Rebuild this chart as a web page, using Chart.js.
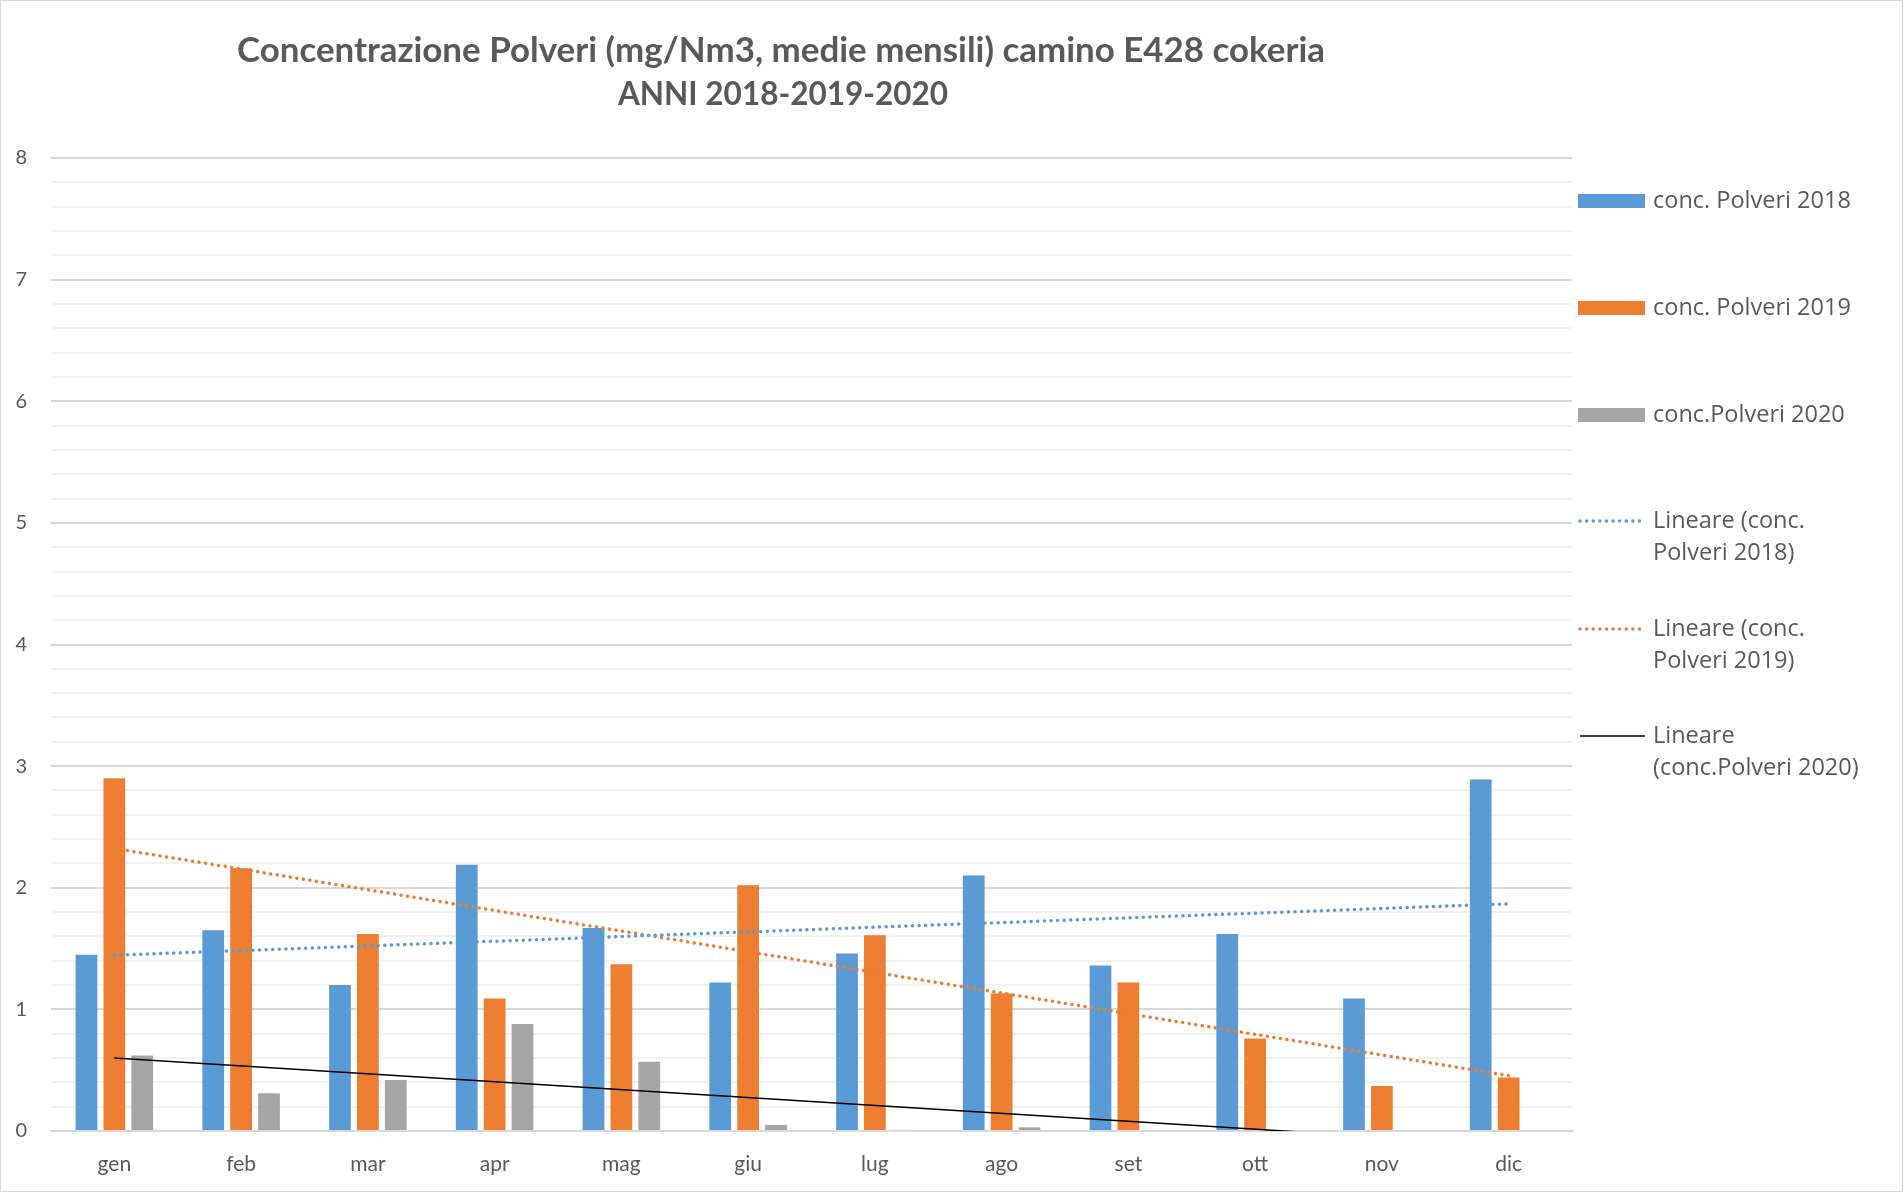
<!DOCTYPE html>
<html lang="it">
<head>
<meta charset="UTF-8">
<title>Concentrazione Polveri camino E428 cokeria</title>
<script src="https://cdn.jsdelivr.net/npm/chart.js"></script>
<style>
  html, body { margin: 0; padding: 0; background: #fff; }
  canvas { display: block; }
</style>
</head>
<body>
<canvas id="myChart" width="1903" height="1192"></canvas>
<script>
// data
const months = ['gen', 'feb', 'mar', 'apr', 'mag', 'giu', 'lug', 'ago', 'set', 'ott', 'nov', 'dic'];
const polveri2018 = [1.45, 1.65, 1.20, 2.19, 1.67, 1.22, 1.46, 2.10, 1.36, 1.62, 1.09, 2.89];
const polveri2019 = [2.90, 2.16, 1.62, 1.09, 1.37, 2.02, 1.61, 1.13, 1.22, 0.76, 0.37, 0.44];
const polveri2020 = [0.62, 0.31, 0.42, 0.88, 0.57, 0.05, 0.01, 0.03, null, null, null, null];

// trend lines: value at gen and at dic, as seen in the picture
const trend2018 = [1.445, 1.868];
const trend2019 = [2.323, 0.455];
const trend2020 = [0.60, -0.115];

const yTicks = [0, 1, 2, 3, 4, 5, 6, 7, 8];

const titleLines = ['Concentrazione Polveri (mg/Nm3, medie mensili) camino E428 cokeria', 'ANNI 2018-2019-2020'];
const legendTexts = [
  ['conc. Polveri 2018'],
  ['conc. Polveri 2019'],
  ['conc.Polveri 2020'],
  ['Lineare (conc.', 'Polveri 2018)'],
  ['Lineare (conc.', 'Polveri 2019)'],
  ['Lineare', '(conc.Polveri 2020)']
];

const BLUE = '#5B9BD5', ORANGE = '#ED7D31', GREY = '#A5A5A5';

// only first and last month get a point, the line joins them
function endpoints(pair) {
  return months.map((m, i) => i === 0 ? pair[0] : (i === months.length - 1 ? pair[1] : null));
}
function isWhole(v) { return Math.abs(v - Math.round(v)) < 1e-6; }

// draw text squeezed to a given width (reference font is narrower than Lato)
function fitText(ctx, text, x, y, width) {
  ctx.font = 'bold 30px Lato';
  const size = 30 * width / ctx.measureText(text).width;
  ctx.font = 'bold ' + size.toFixed(1) + 'px Lato';
  ctx.fillText(text, x, y);
}

const titlePlugin = {
  id: 'excelTitle',
  afterDraw(chart) {
    const ctx = chart.ctx;
    ctx.save();
    ctx.fillStyle = '#595959';
    ctx.textAlign = 'center';
    ctx.textBaseline = 'middle';
    fitText(ctx, titleLines[0], 781, 51, 1087);
    fitText(ctx, titleLines[1], 783, 95, 330);
    // outer frame
    ctx.strokeStyle = '#d9d9d9';
    ctx.lineWidth = 1;
    ctx.strokeRect(0.5, 0.5, chart.width - 1, chart.height - 1);
    ctx.restore();
  }
};

const legendPlugin = {
  id: 'sideLegend',
  afterDraw(chart) {
    const ctx = chart.ctx;
    const rows = [201, 308, 415, 521, 629, 736];
    ctx.save();
    ctx.font = '23.5px "Open Sans"';
    ctx.textBaseline = 'middle';
    chart.data.datasets.forEach((ds, i) => {
      const y = rows[i];
      if (ds.type === 'line') {
        ctx.beginPath();
        ctx.strokeStyle = ds.borderColor;
        ctx.lineWidth = ds.borderWidth;
        ctx.lineCap = ds.borderCapStyle || 'butt';
        ctx.setLineDash(ds.borderDash || []);
        ctx.moveTo(1580, y);
        ctx.lineTo(1645, y);
        ctx.stroke();
        ctx.setLineDash([]);
      } else {
        ctx.fillStyle = ds.backgroundColor;
        ctx.fillRect(1578, y - 7, 67, 14);
      }
      ctx.fillStyle = '#595959';
      legendTexts[i].forEach((t, k) => ctx.fillText(t, 1653, y + k * 32));
    });
    ctx.restore();
  }
};

Chart.defaults.font.family = 'Lato';
Chart.defaults.color = '#595959';

const ctx = document.getElementById('myChart').getContext('2d');
const myChart = new Chart(ctx, {
  type: 'bar',
  data: {
    labels: months,
    datasets: [
      { label: 'conc. Polveri 2018', data: polveri2018, backgroundColor: BLUE, order: 2 },
      { label: 'conc. Polveri 2019', data: polveri2019, backgroundColor: ORANGE, order: 2 },
      { label: 'conc.Polveri 2020', data: polveri2020, backgroundColor: GREY, order: 2 },
      {
        type: 'line', label: 'Lineare (conc. Polveri 2018)', data: endpoints(trend2018),
        borderColor: BLUE, borderWidth: 3.5, borderDash: [0.1, 6.5], borderCapStyle: 'round',
        pointRadius: 0, spanGaps: true, order: 1
      },
      {
        type: 'line', label: 'Lineare (conc. Polveri 2019)', data: endpoints(trend2019),
        borderColor: ORANGE, borderWidth: 3.5, borderDash: [0.1, 6.5], borderCapStyle: 'round',
        pointRadius: 0, spanGaps: true, order: 1
      },
      {
        type: 'line', label: 'Lineare (conc.Polveri 2020)', data: endpoints(trend2020),
        borderColor: '#000000', borderWidth: 1.5,
        pointRadius: 0, spanGaps: true, order: 1
      }
    ]
  },
  options: {
    responsive: false,
    animation: false,
    devicePixelRatio: 1,
    layout: { padding: { top: 158, right: 331, left: 0, bottom: 0 } },
    datasets: {
      bar: { categoryPercentage: 0.66, barPercentage: 0.78 }
    },
    plugins: {
      legend: { display: false },
      title: { display: false },
      tooltip: { enabled: false }
    },
    scales: {
      x: {
        grid: { display: false },
        border: { color: '#d9d9d9', width: 2 },
        ticks: { font: { size: 21 }, padding: 13, maxRotation: 0, color: '#595959' },
        afterFit(scale) { scale.height = 61; }
      },
      y: {
        min: 0,
        max: 8,
        border: { display: false },
        grid: {
          drawTicks: false,
          lineWidth: 2,
          color: (c) => (c.tick && isWhole(c.tick.value)) ? '#d9d9d9' : '#f2f2f2'
        },
        ticks: {
          stepSize: 0.2,
          autoSkip: false,
          padding: 24,
          font: { size: 20 },
          color: '#595959',
          callback: (v) => {
            const r = Math.round(v);
            return (isWhole(v) && yTicks.includes(r)) ? String(r) : '';
          }
        },
        afterFit(scale) { scale.width = 51; }
      }
    }
  },
  plugins: [titlePlugin, legendPlugin]
});
</script>
</body>
</html>
